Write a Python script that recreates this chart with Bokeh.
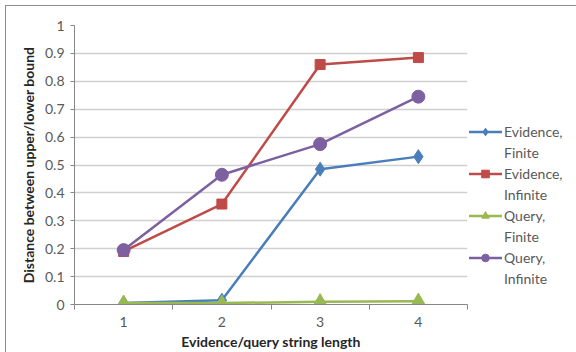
from bokeh.plotting import figure
from bokeh.layouts import row
from bokeh.models import FixedTicker, Legend, LegendItem, Range1d
from bokeh.embed import file_html
from bokeh.resources import INLINE

x_vals = [1, 2, 3, 4]
x_labels = ["1", "2", "3", "4"]
evidence_finite = [0.005, 0.015, 0.485, 0.53]
evidence_infinite = [0.19, 0.36, 0.86, 0.885]
query_finite = [0.005, 0.005, 0.01, 0.012]
query_infinite = [0.195, 0.465, 0.575, 0.745]
y_ticks = [0, 0.1, 0.2, 0.3, 0.4, 0.5, 0.6, 0.7, 0.8, 0.9, 1.0]
y_labels = ["0", "0.1", "0.2", "0.3", "0.4", "0.5", "0.6", "0.7", "0.8", "0.9", "1"]

FONT = "Lato"
TXT = "#595959"

p = figure(width=463, height=346, output_backend="svg", toolbar_location=None,
           x_range=Range1d(0.5, 4.5), y_range=Range1d(0, 1.0),
           min_border_left=68, min_border_right=2, min_border_top=19, min_border_bottom=45)
p.outline_line_color = None

p.xaxis.ticker = FixedTicker(ticks=x_vals, minor_ticks=[0.5, 1.5, 2.5, 3.5, 4.5])
p.xaxis.major_label_overrides = {v: l for v, l in zip(x_vals, x_labels)}
p.xaxis.major_tick_out = 0
p.xaxis.major_tick_in = 0
p.xaxis.minor_tick_out = 5
p.xaxis.minor_tick_in = 0
p.xaxis.axis_label = "Evidence/query string length"

p.yaxis.ticker = FixedTicker(ticks=y_ticks)
p.yaxis.major_label_overrides = {v: l for v, l in zip(y_ticks, y_labels)}
p.yaxis.major_tick_out = 4
p.yaxis.major_tick_in = 0
p.yaxis.minor_tick_out = 0
p.yaxis.minor_tick_in = 0
p.yaxis.axis_label = "Distance between upper/lower bound"

for ax in (p.xaxis[0], p.yaxis[0]):
    ax.axis_line_color = "#868686"
    ax.major_tick_line_color = "#868686"
    ax.minor_tick_line_color = "#868686"
    ax.major_label_text_font = FONT
    ax.major_label_text_font_size = "14px"
    ax.major_label_text_color = TXT
    ax.axis_label_text_font = FONT
    ax.axis_label_text_font_size = "14px"
    ax.axis_label_text_font_style = "bold"
    ax.axis_label_text_color = "#262626"
p.yaxis.major_label_standoff = 6
p.xaxis.major_label_standoff = 7
p.xaxis.axis_label_standoff = 3
p.yaxis.axis_label_standoff = 5

p.xgrid.grid_line_color = None
p.ygrid.grid_line_color = "#d0d0d0"
p.ygrid.grid_line_width = 1.5

series = [
    ("Evidence,", "Finite", evidence_finite, "#4A7EBB", "diamond", 14),
    ("Evidence,", "Infinite", evidence_infinite, "#BE4B48", "square", 10),
    ("Query,", "Finite", query_finite, "#98B954", "triangle", 14),
    ("Query,", "Infinite", query_infinite, "#7D60A0", "circle", 13),
]

# legend lives in a narrow companion figure to the right of the plot area;
# its renderers carry the same data but sit outside that figure's visible range
lg = figure(width=108, height=346, output_backend="svg", toolbar_location=None,
            x_axis_type=None, y_axis_type=None, x_range=Range1d(10, 11), y_range=Range1d(10, 11),
            min_border_left=0, min_border_right=0, min_border_top=0, min_border_bottom=0)
lg.outline_line_color = None
lg.grid.grid_line_color = None

items = []
for l1, l2, ys, col, mk, sz in series:
    p.line(x_vals, ys, line_color=col, line_width=2.5)
    p.scatter(x_vals, ys, marker=mk, size=sz, fill_color=col, line_color=col)
    ln = lg.line(x_vals, ys, line_color=col, line_width=2.5)
    sc = lg.scatter(x_vals, ys, marker=mk, size=sz - 3, fill_color=col, line_color=col)
    dummy = lg.line(x_vals, ys, line_alpha=0)
    items.append(LegendItem(label=l1, renderers=[ln, sc]))
    items.append(LegendItem(label=l2, renderers=[dummy]))

legend = Legend(items=items, location=(-1, 16), orientation="vertical",
                label_text_font=FONT, label_text_font_size="14px", label_text_color=TXT,
                glyph_width=34, glyph_height=19, label_height=19, spacing=2,
                label_standoff=2, padding=0, margin=0,
                border_line_color=None, background_fill_alpha=0)
lg.add_layout(legend, "center")

layout = row(p, lg, spacing=0,
             styles={"margin-left": "5px", "margin-top": "5px",
                     "border-left": "1px solid #8c8c8c", "border-top": "1px solid #8c8c8c",
                     "border-bottom": "1px solid #8c8c8c"})

open("out.html", "w").write(file_html(layout, INLINE))
